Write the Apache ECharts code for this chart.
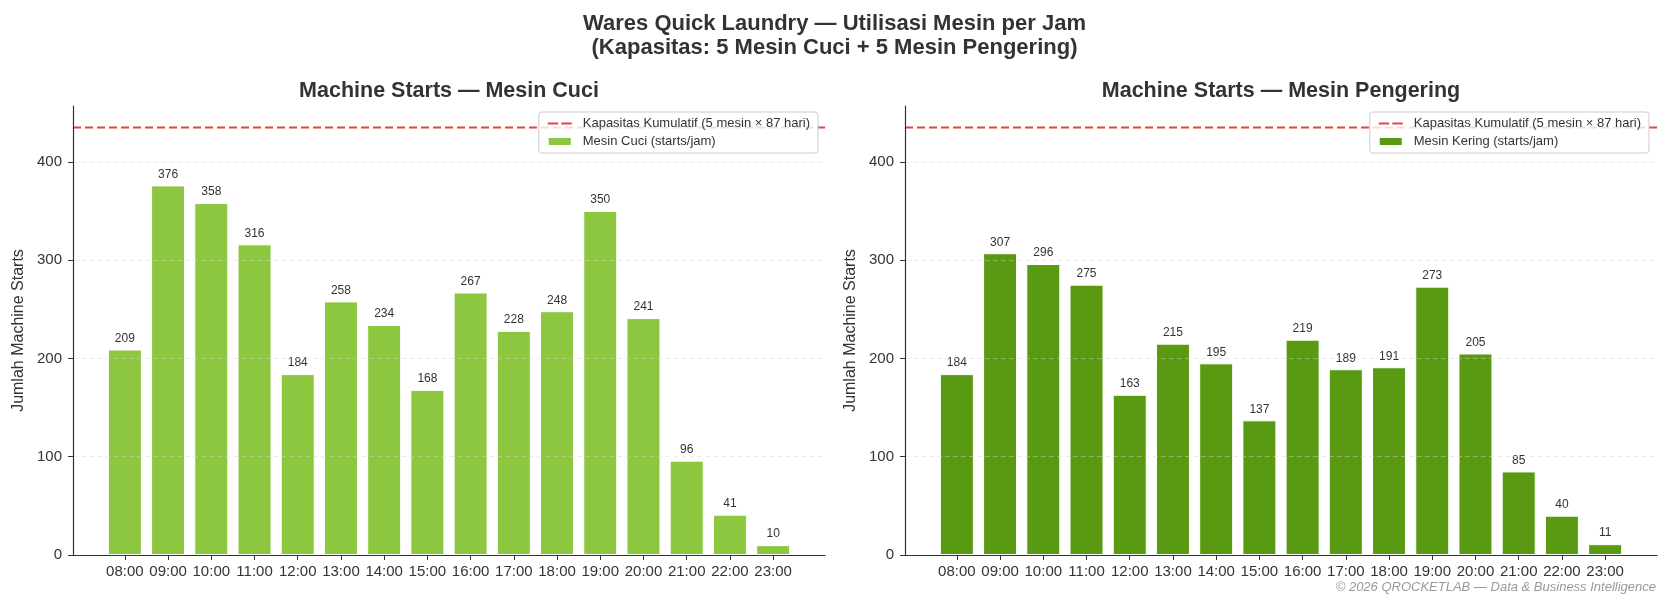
<!DOCTYPE html>
<html>
<head>
<meta charset="utf-8">
<script src="https://cdn.jsdelivr.net/npm/echarts@6/dist/echarts.min.js"></script>
<style>
  html, body { margin: 0; padding: 0; background: #fff; }
  #chart { width: 1669px; height: 606px; }
</style>
</head>
<body>
<div id="chart"></div>
<script>
var hours = ['08:00', '09:00', '10:00', '11:00', '12:00', '13:00', '14:00', '15:00',
    '16:00', '17:00', '18:00', '19:00', '20:00', '21:00', '22:00', '23:00'];
var cuciStarts = [209, 376, 358, 316, 184, 258, 234, 168, 267, 228, 248, 350, 241, 96, 41, 10];
var keringStarts = [184, 307, 296, 275, 163, 215, 195, 137, 219, 189, 191, 273, 205, 85, 40, 11];
var jumlahMesin = 5;
var jumlahHari = 87;
var yTicks = [0, 100, 200, 300, 400];

window.onload = function () {
    var font = "'Liberation Sans', Arial, sans-serif";
    var kapasitas = jumlahMesin * jumlahHari;
    var capName = 'Kapasitas Kumulatif (5 mesin × 87 hari)';
    var idx = hours.map(function (h, i) { return i; });

    var xMin = -1.2, xMax = hours.length - 1 + 1.2;
    var yMax = kapasitas * 1.05;

    function xAxis(gi) {
        return {
            type: 'value', gridIndex: gi, min: xMin, max: xMax, z: 4,
            axisLine: { show: true, onZero: false, lineStyle: { color: '#333', width: 1.2 } },
            axisTick: { show: true, customValues: idx, length: 5, lineStyle: { color: '#333' } },
            axisLabel: {
                customValues: idx, margin: 9, color: '#333', fontSize: 15, fontFamily: font,
                formatter: function (v) { return hours[Math.round(v)]; }
            },
            splitLine: { show: false }
        };
    }
    function yAxis(gi) {
        return {
            type: 'value', gridIndex: gi, min: 0, max: yMax, z: 3,
            name: 'Jumlah Machine Starts', nameLocation: 'middle', nameGap: 46,
            nameTextStyle: { color: '#333', fontSize: 16, fontFamily: font },
            axisLine: { show: true, onZero: false, lineStyle: { color: '#333', width: 1.2 } },
            axisTick: { show: true, customValues: yTicks, length: 5, lineStyle: { color: '#333' } },
            axisLabel: { customValues: yTicks, margin: 11, color: '#333', fontSize: 15, fontFamily: font },
            splitLine: { show: true, lineStyle: { color: 'rgba(215,215,215,0.45)', type: [5, 3], width: 1 } }
        };
    }
    function bars(name, data, color, gi) {
        return {
            name: name, type: 'bar', xAxisIndex: gi, yAxisIndex: gi,
            barWidth: 34,
            data: data.map(function (v, i) { return [i, v]; }),
            itemStyle: { color: color, borderColor: '#fff', borderWidth: 1 },
            label: {
                show: true, position: 'top', distance: 5, color: '#333', fontSize: 12, fontFamily: font,
                formatter: function (p) { return p.value[1]; }
            }
        };
    }
    function capLine(gi) {
        return {
            name: capName, type: 'line', xAxisIndex: gi, yAxisIndex: gi,
            data: [[xMin, kapasitas], [xMax, kapasitas]],
            symbol: 'none', z: 2,
            lineStyle: { color: '#e8453c', width: 2, type: [8, 4] },
            itemStyle: { color: '#e8453c' }
        };
    }
    function legend(right, barName) {
        return {
            orient: 'vertical', right: right, top: 112, z: 6,
            data: [
                { name: capName, icon: 'path://M0,0h10v2h-10z M13,0h10v2h-10z' },
                { name: barName, icon: 'rect' }
            ],
            itemWidth: 24, itemHeight: 9, itemGap: 5,
            padding: [5, 8, 5, 8],
            backgroundColor: 'rgba(255,255,255,0.8)',
            borderColor: '#ccc', borderWidth: 1, borderRadius: 3,
            textStyle: { color: '#333', fontSize: 13, fontFamily: font, padding: [0, 0, 0, 6] }
        };
    }

    var chart = echarts.init(document.getElementById('chart'), null, { renderer: 'canvas' });
    chart.setOption({
        animation: false,
        backgroundColor: '#fff',
        textStyle: { fontFamily: font },
        title: [
            {
                text: 'Wares Quick Laundry — Utilisasi Mesin per Jam\n(Kapasitas: 5 Mesin Cuci + 5 Mesin Pengering)',
                left: 'center', top: 7,
                textStyle: { color: '#333', fontSize: 22, fontWeight: 'bold', lineHeight: 24, fontFamily: font }
            },
            {
                text: 'Machine Starts — Mesin Cuci', left: 444, textAlign: 'center', top: 75,
                textStyle: { color: '#333', fontSize: 21.5, fontWeight: 'bold', fontFamily: font }
            },
            {
                text: 'Machine Starts — Mesin Pengering', left: 1276, textAlign: 'center', top: 75,
                textStyle: { color: '#333', fontSize: 21.5, fontWeight: 'bold', fontFamily: font }
            },
            {
                text: '© 2026 QROCKETLAB — Data & Business Intelligence', right: 8, top: 576,
                textStyle: { color: '#999', fontSize: 13, fontStyle: 'italic', fontWeight: 'normal', fontFamily: font }
            }
        ],
        legend: [
            legend(851, 'Mesin Cuci (starts/jam)'),
            legend(20, 'Mesin Kering (starts/jam)')
        ],
        grid: [
            { left: 73, top: 106, width: 752, height: 449 },
            { left: 905, top: 106, width: 752, height: 449 }
        ],
        xAxis: [xAxis(0), xAxis(1)],
        yAxis: [yAxis(0), yAxis(1)],
        series: [
            bars('Mesin Cuci (starts/jam)', cuciStarts, '#8dc63f', 0),
            capLine(0),
            bars('Mesin Kering (starts/jam)', keringStarts, '#5a9a12', 1),
            capLine(1)
        ]
    });
};
</script>
</body>
</html>
